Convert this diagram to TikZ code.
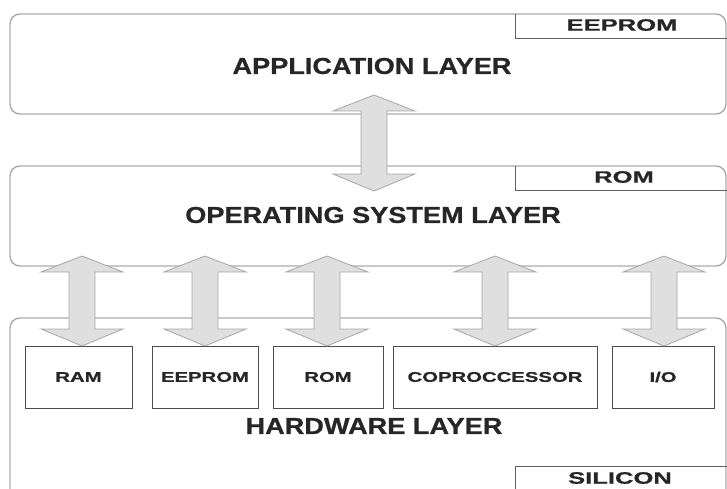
\documentclass[tikz,border=0pt]{standalone}
\usepackage{fontspec}
\newfontfamily\lbl{Liberation Sans}[FakeStretch=1.18,BoldFeatures={FakeBold=0.8}]
\newfontfamily\blbl{Liberation Sans}[FakeStretch=1.45,BoldFeatures={FakeBold=0.8}]
\newfontfamily\tlbl{Liberation Sans}[FakeStretch=1.55,BoldFeatures={FakeBold=0.8}]
\begin{document}
\begin{tikzpicture}[x=1pt,y=-1pt,
  layer/.style={draw=gray!65,line width=1.4pt,rounded corners=10pt},
  tab/.style={draw=gray!75!black,line width=0.8pt},
  unit/.style={draw=gray!60!black,line width=0.8pt,minimum height=62pt,inner sep=0pt},
  ltxt/.style={font=\lbl\bfseries\fontsize{23}{23}\selectfont,text=black!85},
  btxt/.style={font=\blbl\bfseries\fontsize{14}{14}\selectfont,text=black!85},
  ttxt/.style={font=\tlbl\bfseries\fontsize{16.5}{16.5}\selectfont,text=black!85},
  arr/.style={draw=gray!70,fill=gray!25,line width=0.8pt,line join=miter}]
\useasboundingbox (0,0) rectangle (727,489);
\newcommand\dblarr[3]{%
  \filldraw[arr] (#1,#2) -- (#1+41,#2+16) -- (#1+13,#2+16) -- (#1+13,#3-17)
    -- (#1+41,#3-17) -- (#1,#3) -- (#1-41,#3-17) -- (#1-13,#3-17)
    -- (#1-13,#2+16) -- (#1-41,#2+16) -- cycle;}
% layers
\draw[layer] (10,14) rectangle (726,114);
\draw[layer] (10,166) rectangle (726,266);
\draw[layer] (10,318) rectangle (726,510);
% tabs
\draw[tab] (727,38) -- (515,38) -- (515,14);
\draw[tab] (727,190) -- (515,190) -- (515,166);
\draw[tab] (515,489) -- (515,466) -- (727,466);
\node[ttxt] (t1) at (622,25) {EEPROM};
\node[ttxt] (t2) at (624,177) {ROM};
\node[ttxt] (t3) at (620,478) {SILICON};
% layer labels
\node[ltxt] (app) at (372,66) {APPLICATION LAYER};
\node[ltxt] (os) at (373,215) {OPERATING SYSTEM LAYER};
\node[ltxt] (hw) at (374,426) {HARDWARE LAYER};
% units
\node[unit,btxt,minimum width=107pt] (ram) at (78.5,377) {RAM};
\node[unit,btxt,minimum width=106pt] (eep) at (205,377) {EEPROM};
\node[unit,btxt,minimum width=110pt] (rom) at (328,377) {ROM};
\node[unit,btxt,minimum width=204pt] (cop) at (495,377) {COPROCCESSOR};
\node[unit,btxt,minimum width=102pt] (io) at (663,377) {I/O};
% arrows
\dblarr{374}{95}{191}
\dblarr{82}{256}{346}
\dblarr{205}{256}{346}
\dblarr{327}{256}{346}
\dblarr{495}{256}{346}
\dblarr{664}{256}{346}
\end{tikzpicture}
\end{document}
